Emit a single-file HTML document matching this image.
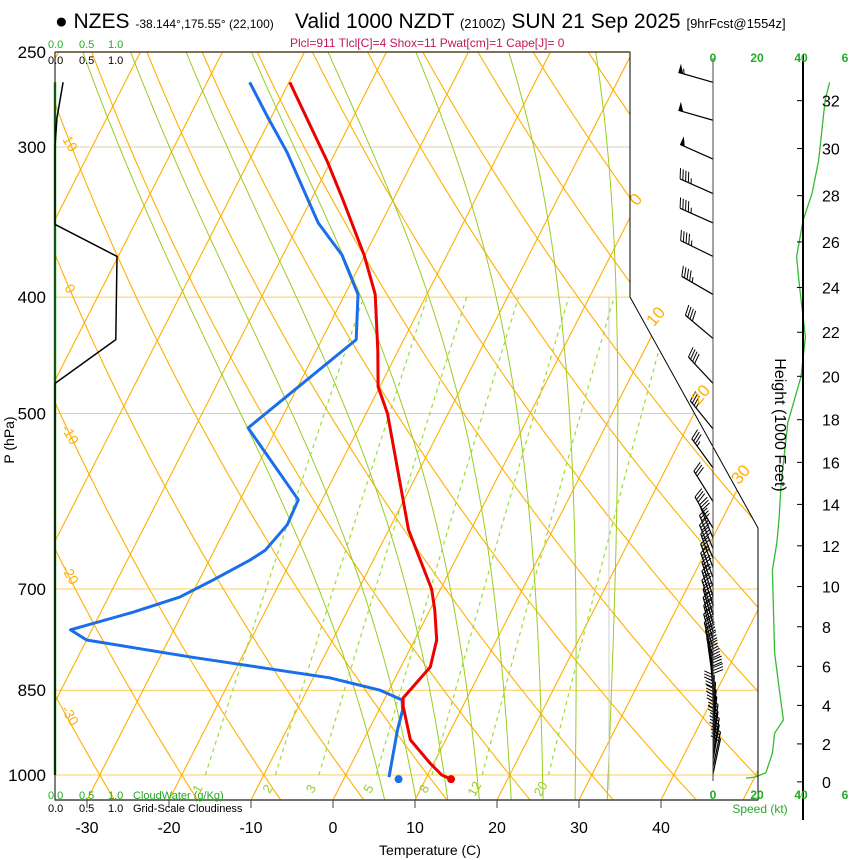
<!DOCTYPE html>
<html><head><meta charset="utf-8"><style>
html,body{margin:0;padding:0;background:#fff;}
svg{display:block;font-family:"Liberation Sans",sans-serif;}
</style></head><body>
<svg id="c" width="850" height="860" viewBox="0 0 850 860" xmlns="http://www.w3.org/2000/svg">
<defs><clipPath id="clip"><polygon points="55,52 630,52 630,297 758,528 758,800 55,800"/></clipPath></defs>
<g id="bg" clip-path="url(#clip)"></g>
<g id="marks"></g>
<g id="axes"></g>
<g>
<text x="55" y="28" font-size="21">● NZES <tspan font-size="12">-38.144°,175.55° (22,100)</tspan></text>
<text x="295" y="28" font-size="21">Valid 1000 NZDT <tspan font-size="13">(2100Z)</tspan> SUN 21 Sep 2025 <tspan font-size="13">[9hrFcst@1554z]</tspan></text>
<text x="290" y="47" font-size="12" fill="#c0185a">Plcl=911 Tlcl[C]=4 Shox=11 Pwat[cm]=1 Cape[J]= 0</text>
<text x="48" y="48" font-size="11" fill="#22aa22">0.0 <tspan x="79">0.5</tspan><tspan x="108">1.0</tspan></text>
<text x="48" y="64" font-size="11" fill="#000">0.0 <tspan x="79">0.5</tspan><tspan x="108">1.0</tspan></text>
<text x="48" y="799" font-size="11" fill="#22aa22">0.0 <tspan x="79">0.5</tspan><tspan x="108">1.0</tspan><tspan x="133">CloudWater (g/Kg)</tspan></text>
<text x="48" y="812" font-size="11" fill="#000">0.0 <tspan x="79">0.5</tspan><tspan x="108">1.0</tspan><tspan x="133">Grid-Scale Cloudiness</tspan></text>
<text x="430" y="855" font-size="14" text-anchor="middle">Temperature (C)</text>
<text transform="translate(14,440) rotate(-90)" font-size="14" text-anchor="middle">P (hPa)</text>
<text transform="translate(775,425) rotate(90)" font-size="16" text-anchor="middle">Height (1000 Feet)</text>
<text x="760" y="813" font-size="12" fill="#22aa22" text-anchor="middle">Speed (kt)</text>
</g>
<script>
// ---- data ----
const tempP=[265,309,332,369,398,443,475,500,625,662,700,729,772,813,863,878,935,977,1000,1008];
const tempC=[-49.9,-40.3,-36.1,-30.1,-26.3,-22.5,-20.2,-17.4,-7.6,-4.3,-1.1,0.6,2.7,3.6,2.2,2.8,5.7,9.5,11.7,13.1];
const dewP=[265,283,303,347,369,398,434,514,590,619,650,662,688,711,732,757,772,798,830,850,866,883,917,1004];
const dewC=[-54.8,-50.5,-45.9,-37.7,-32.8,-28.4,-25.8,-33.5,-22.9,-22.7,-23.8,-25.0,-28.3,-31.3,-36.1,-42.6,-40.0,-26.0,-8.0,-1.1,2.2,2.9,3.5,5.4];
const sfcT=13.1, sfcTd=6.7, sfcP=1008;
const spdP=[265,274,308,328,345,370,387,432,466,509,571,613,641,675,791,845,900,923,959,996,1004,1006];
const spdKt=[53,51,48,45,41,38,39,42,40,34,31,30,29,27,28,30,32,28,27,24,19,15];
const barbP=[265,285,307,328,347,370,398,433,472,515,555,592,623,635,648,660,672,685,697,710,722,735,748,760,772,785,798,810,822,835,848,860,872,885,897,910,922,935,948,960,972,985,998];
const barbDir=[286,286,294,294,294,296,300,310,317,321,324,328,330,338,338,338,340,340,340,342,342,342,344,344,345,345,346,348,350,352,355,358,0,2,4,5,6,8,8,10,10,12,12];
const barbKt=[53,51,48,45,45,45,45,42,40,35,33,31,30,29,29,28,28,27,27,27,27,27,27,28,28,28,28,29,29,30,30,31,31,32,31,29,28,28,27,26,25,22,18];
const cloudP=[265,284,300,348,370,434,472,1000];
const cloudFrac=[0.13,0.03,0,0,1.0,0.98,0,0];
const cwP=[265,1000];
const cwVal=[0,0];
const tempTicks=[-30,-20,-10,0,10,20,30,40];
const presTicks=[250,300,400,500,700,850,1000];
const heightTicks=[0,2,4,6,8,10,12,14,16,18,20,22,24,26,28,30,32];
const speedTicks=["0","20","40","6"];
const speedTickVals=[0,20,40,60];
const mixW=[1,2,3,5,8,12,20];
const isoLabels=[0,10,20,30];
const thetaLabels=[10,0,-10,-20,-30];

// ---- axis functions ----
const X0=333,PX=8.2,SK=0.51,YB=800,Y1000=775,KP=521.6;
function yP(p){return Y1000-KP*Math.log(1000/p);}
function xT(T,p){return X0+PX*T+SK*(YB-yP(p));}
function xSpd(s){return 713+2.2*s;}
function xCloud(f){return 55+62*f;}
function pFromFt(ft){const m=ft*0.3048;return 1013.25*Math.pow(1-2.25577e-5*m,5.2559);}
const NS='http://www.w3.org/2000/svg';
function mk(tag,attrs,parent){const e=document.createElementNS(NS,tag);for(const k in attrs)e.setAttribute(k,attrs[k]);parent.appendChild(e);return e;}
const bg=document.getElementById('bg'),marks=document.getElementById('marks'),axes=document.getElementById('axes');
function pts(a){return a.map(q=>q[0].toFixed(1)+','+q[1].toFixed(1)).join(' ');}

// isobars
for(const p of [250,300,400,500,700,850,1000]){
  const l=mk('line',{x1:55,x2:760,y1:yP(p),y2:yP(p),stroke:(p===500||p===300)?'#d8d0b0':'#ffcc55','stroke-width':1},bg);
  
  
}
// isotherms
for(let T=-130;T<=50;T+=10){
  const l=mk('line',{x1:xT(T,1050),y1:yP(1050),x2:xT(T,240),y2:yP(240),stroke:'#ffb000','stroke-width':1.1},bg);
  
  
}
// dry adiabats
for(let th=-40;th<=160;th+=10){
  const a=[];for(let p=1050;p>=240;p-=10){a.push([xT((th+273.15)*Math.pow(p/1000,0.286)-273.15,p),yP(p)]);}
  const l=mk('polyline',{points:pts(a),fill:'none',stroke:'#ffb000','stroke-width':1.1},bg);
  
  
}
// moist adiabats
function es(T){return 6.112*Math.exp(17.67*T/(T+243.5));}
function dTdp(T,p){const Tk=T+273.15;const e=es(T);const rs=0.622*e/(p-e);
  return (287*Tk+2.5e6*rs)/(p*(1005+2.5e6*2.5e6*rs*0.622/(287*Tk*Tk)));}
for(let tw=4;tw<=32;tw+=4){
  let a=[];let T=tw;
  const up=[];for(let p=1000;p<=1050;p+=5){up.push([xT(T,p),yP(p)]);T+=dTdp(T,p)*5;}
  T=tw;for(let p=1000;p>=240;p-=5){a.push([xT(T,p),yP(p)]);T-=dTdp(T,p)*5;}
  a=up.reverse().concat(a);
  const l=mk('polyline',{points:pts(a),fill:'none',stroke:'#99cc22','stroke-width':1},bg);
  
  
}
// mixing ratio lines
function tdFromW(w,p){const e=w*p/(622+w);const L=Math.log(e/6.112);return 243.5*L/(17.67-L);}
mixW.forEach(w=>{
  const a=[];for(let p=1000;p>=400;p-=10)a.push([xT(tdFromW(w,p),p),yP(p)]);
  const l=mk('polyline',{points:pts(a),fill:'none',stroke:'#99dd33','stroke-width':1.2,'stroke-dasharray':'4,4'},bg);
  
  
  const x=xT(tdFromW(w,1000),1000)-4,y=791;
  const t=mk('text',{x:x,y:y,'font-size':13,fill:'#99cc22',transform:'rotate(-60 '+x+' '+y+')','text-anchor':'middle'},bg);
  t.textContent=w;
  
  
});
mk('line',{x1:609,x2:609,y1:297,y2:790,stroke:'#cccccc','stroke-width':1},bg);

// isotherm labels (right)
const isoPos=[[640,203],[660,320],[705,398],[745,478]];
isoLabels.forEach((v,i)=>{const [x,y]=isoPos[i];
  const t=mk('text',{x:x,y:y,'font-size':17,fill:'#ffb000','text-anchor':'middle',transform:'rotate(-50 '+x+' '+y+')'},axes);
  t.textContent=v;
  
  });
const thPos=[[66,146],[66,291],[66,437],[66,577],[66,718]];
thetaLabels.forEach((v,i)=>{const [x,y]=thPos[i];
  const t=mk('text',{x:x,y:y,'font-size':14,fill:'#ffb000','text-anchor':'middle',transform:'rotate(60 '+x+' '+y+')'},axes);
  t.textContent=v;
  
  });

// frame
mk('polyline',{points:'55,52 630,52 630,297 758,528 758,800 55,800 55,52',fill:'none',stroke:'#000','stroke-width':1},axes);
mk('line',{x1:55,x2:758,y1:800,y2:800,stroke:'#444','stroke-width':1.5},axes);
mk('line',{x1:55,x2:630,y1:52,y2:52,stroke:'#554422','stroke-width':1.5},axes);
mk('line',{x1:713,x2:713,y1:58,y2:781,stroke:'#444','stroke-width':1},axes);
mk('line',{x1:803,x2:803,y1:55,y2:820,stroke:'#000','stroke-width':2},axes);
tempTicks.forEach(T=>{const x=X0+PX*T;
  mk('line',{x1:x,x2:x,y1:800,y2:808,stroke:'#444'},axes);
  const t=mk('text',{x:x,y:833,'font-size':16,'text-anchor':'middle'},axes);t.textContent=T;
  
  });
presTicks.forEach(p=>{const t=mk('text',{x:46,y:yP(p)+6,'font-size':17,'text-anchor':'end'},axes);t.textContent=p;
  
  });
heightTicks.forEach(h=>{const y=yP(pFromFt(h*1000));
  mk('line',{x1:803,x2:797,y1:y,y2:y,stroke:'#000'},axes);
  const t=mk('text',{x:822,y:y+6,'font-size':16},axes);t.textContent=h;
  
  });
speedTickVals.forEach((v,i)=>{[62,799].forEach(y=>{
  const t=mk('text',{x:xSpd(v),y:y,'font-size':12,'font-weight':'bold',fill:'#22aa22','text-anchor':'middle'},axes);t.textContent=speedTicks[i];
  
  });});

// cloudwater & cloudiness
{const l=mk('polyline',{points:pts(cwP.map((p,i)=>[xCloud(cwVal[i]),yP(p)])),fill:'none',stroke:'#22aa22','stroke-width':2.5},marks);
 
 }
{const l=mk('polyline',{points:pts(cloudP.map((p,i)=>[xCloud(cloudFrac[i]),yP(p)])),fill:'none',stroke:'#000','stroke-width':1.5},marks);
 
 }
{const l=mk('polyline',{points:pts(dewP.map((p,i)=>[xT(dewC[i],p),yP(p)])),fill:'none',stroke:'#1a6eea','stroke-width':3,'stroke-linejoin':'round'},marks);
 
 }
{const l=mk('polyline',{points:pts(tempP.map((p,i)=>[xT(tempC[i],p),yP(p)])),fill:'none',stroke:'#ee0000','stroke-width':3,'stroke-linejoin':'round'},marks);
 
 }
{const c=mk('circle',{cx:xT(sfcTd,sfcP),cy:yP(sfcP),r:4,fill:'#1a6eea'},marks);
 
 }
{const c=mk('circle',{cx:xT(sfcT,sfcP),cy:yP(sfcP),r:4,fill:'#ee0000'},marks);
 
 }
{const l=mk('polyline',{points:pts(spdP.map((p,i)=>[xSpd(spdKt[i]),yP(p)])),fill:'none',stroke:'#33bb33','stroke-width':1.3},marks);
 
 }
// barbs
barbP.forEach((p,i)=>{
  const g=mk('g',{},marks);
  
  
  const d=barbDir[i]*Math.PI/180;const ux=Math.sin(d),uy=-Math.cos(d);
  const bx=713,by=yP(p),L=36;const tx=bx+ux*L,ty=by+uy*L;
  mk('line',{x1:bx,y1:by,x2:tx,y2:ty,stroke:'#000','stroke-width':1.2},g);
  let s=Math.round(barbKt[i]/5)*5;let pos=0;
  let nnx=-uy,nny=ux; if(nny>0){nnx=-nnx;nny=-nny;}
  while(s>=50){const x1=tx-ux*pos,y1=ty-uy*pos,x2=tx-ux*(pos+5),y2=ty-uy*(pos+5);
    mk('polygon',{points:pts([[x1,y1],[x1+nnx*9,y1+nny*9],[x2,y2]]),fill:'#000'},g);pos+=6;s-=50;}
  while(s>=10){const x1=tx-ux*pos,y1=ty-uy*pos;
    mk('line',{x1:x1,y1:y1,x2:x1+nnx*10+ux*4,y2:y1+nny*10+uy*4,stroke:'#000','stroke-width':1},g);pos+=3;s-=10;}
  if(s>=5){if(pos===0)pos=3;const x1=tx-ux*pos,y1=ty-uy*pos;
    mk('line',{x1:x1,y1:y1,x2:x1+nnx*5+ux*2,y2:y1+nny*5+uy*2,stroke:'#000','stroke-width':1},g);}
});
</script>
</svg>
</body></html>
